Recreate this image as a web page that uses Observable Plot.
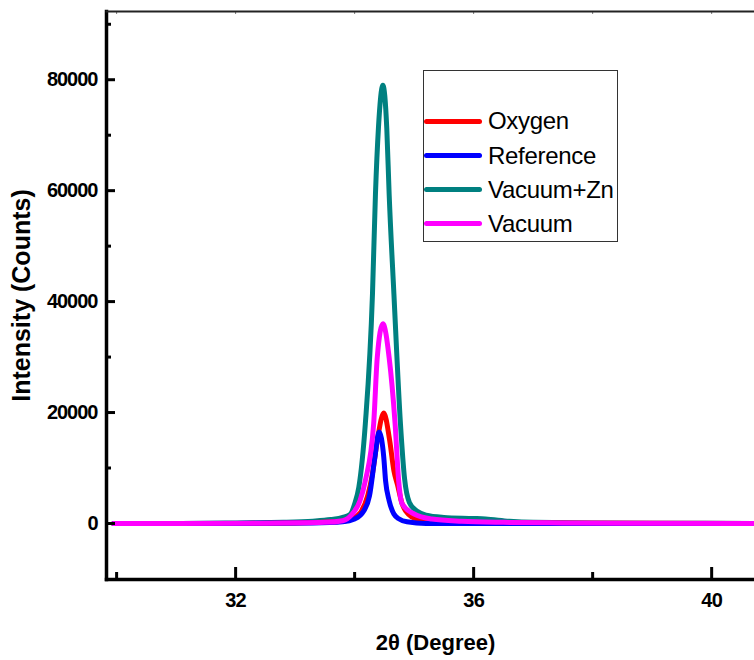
<!DOCTYPE html>
<html>
<head>
<meta charset="utf-8">
<script src="https://cdn.jsdelivr.net/npm/d3@7"></script>
<script src="https://cdn.jsdelivr.net/npm/@observablehq/plot@0.6"></script>
<style>
  body { margin: 0; background: #fff; }
  #wrap { position: relative; width: 754px; height: 660px; overflow: hidden; background: #fff; }
  #legend { position: absolute; left: 423px; top: 70px; width: 195px; height: 172px;
    border: 1.5px solid #333; box-sizing: border-box;
    font-family: "Liberation Sans", Arial, sans-serif; }
  .lrow { position: absolute; left: 0; height: 24px; width: 210px; }
  .lline { position: absolute; left: 0px; top: 9.5px; width: 58px; height: 5px; border-radius: 3px; }
  .ltext { position: absolute; left: 64px; top: 0; font-size: 24px; line-height: 24px;
    letter-spacing: -0.3px; color: #000; white-space: nowrap; }
  g[aria-label="y-axis tick label"] text { letter-spacing: -1px; }
  g[aria-label="x-axis tick label"] text { letter-spacing: -0.8px; }
</style>
</head>
<body>
<div id="wrap"><div id="chart"></div><div id="legend"></div></div>
<script>
// ---------- data ----------
const seriesNames  = ["Oxygen", "Reference", "Vacuum+Zn", "Vacuum"];
const seriesColors = ["#ff0000", "#0000ff", "#008080", "#ff00ff"];

const vacZnX = [29.95, 31.0, 32.0, 32.8, 33.3, 33.6, 33.8, 33.93, 34.0, 34.07, 34.18, 34.30, 34.35, 34.40, 34.475,
                34.54, 34.58, 34.66, 34.77, 34.84, 34.92, 35.05, 35.2, 35.5, 36.0, 36.2, 36.6, 37.0, 38.0, 39.0, 40.72];
const vacZnY = [0, 0, 100, 200, 400, 700, 1100, 1700, 3500, 6500, 18000, 41400, 59400, 71300, 79000,
                71300, 59400, 41400, 18000, 8000, 3800, 2200, 1500, 1100, 900, 800, 400, 200, 100, 50, 0];

const vacuumX = [29.95, 31.0, 32.5, 33.5, 33.8, 33.96, 34.09, 34.18, 34.32, 34.38, 34.475, 34.58, 34.68, 34.74,
                 34.80, 35.0, 35.3, 35.8, 36.5, 37.5, 40.72];
const vacuumY = [0, 0, 50, 200, 500, 1700, 4100, 7700, 18000, 29900, 36000, 29900, 18000, 7700,
                 3500, 1700, 800, 400, 200, 100, 0];

const oxygenX = [29.95, 32.0, 33.0, 33.7, 33.95, 34.1, 34.22, 34.30, 34.38, 34.49, 34.59, 34.66, 34.72,
                 34.80, 34.9, 35.05, 35.3, 36.0, 40.72];
const oxygenY = [0, 0, 100, 300, 800, 2000, 5000, 9000, 14900, 19900, 14900, 9500, 7000,
                 3500, 1700, 800, 300, 100, 0];

const referenceX = [29.95, 32.0, 33.3, 33.8, 34.0, 34.15, 34.25, 34.34, 34.41, 34.49, 34.52, 34.58, 34.66,
                    34.75, 34.88, 35.2, 40.72];
const referenceY = [0, 0, 100, 300, 800, 2200, 5000, 11900, 16500, 11900, 7700, 4100, 1700,
                    800, 300, 0, 0];

const majorX = [32, 36, 40];
const minorX = [30, 34, 38];
const topX   = [30, 32, 34, 36, 38, 40];
const majorY = [0, 20000, 40000, 60000, 80000];
const minorY = [10000, 30000, 50000, 70000, 90000];

const xTitle = "2θ (Degree)";
const yTitle = "Intensity (Counts)";

// ---------- layout ----------
const W = 754, H = 660, mL = 106, mR = 0, mT = 11, mB = 81;
const plotW = W - mL - mR, plotH = H - mT - mB;

const seriesData = {
  "Oxygen": [oxygenX, oxygenY],
  "Reference": [referenceX, referenceY],
  "Vacuum+Zn": [vacZnX, vacZnY],
  "Vacuum": [vacuumX, vacuumY]
};
const rows = seriesNames.flatMap(name => {
  const [xs, ys] = seriesData[name];
  return xs.map((x, i) => ({ series: name, x, y: ys[i] }));
});
const colorOf = Object.fromEntries(seriesNames.map((n, i) => [n, seriesColors[i]]));
const drawOrder = ["Vacuum+Zn", "Oxygen", "Reference", "Vacuum"];

const font = '"Liberation Sans", Arial, sans-serif';

const chart = Plot.plot({
  width: W, height: H,
  marginLeft: mL, marginRight: mR, marginTop: mT, marginBottom: mB,
  style: { fontFamily: font, background: "#fff", color: "#000" },
  x: { domain: [29.83, 40.72] },
  y: { domain: [-10100, 92300] },
  marks: [
    Plot.axisX(majorX, { tickSize: 0, tickPadding: 13, fontSize: 20, fontWeight: "bold", label: null, tickFormat: d => String(d) }),
    Plot.axisY(majorY, { tickSize: 0, tickPadding: 9, fontSize: 20, fontWeight: "bold", label: null, tickFormat: d => String(d) }),
    ...drawOrder.map(name => Plot.line(rows.filter(r => r.series === name), {
      x: "x", y: "y", stroke: colorOf[name], strokeWidth: 5, curve: "monotone-x",
      strokeLinejoin: "round", strokeLinecap: "round", clip: true
    })),
    Plot.ruleY(majorY, { insetRight: plotW - 9, stroke: "#000", strokeWidth: 3 }),
    Plot.ruleY(minorY, { insetRight: plotW - 5, stroke: "#000", strokeWidth: 3 }),
    Plot.ruleX(majorX, { insetTop: plotH - 12, stroke: "#000", strokeWidth: 3 }),
    Plot.ruleX(minorX, { insetTop: plotH - 7, stroke: "#000", strokeWidth: 3 }),
    Plot.ruleX(topX, { insetBottom: plotH - 3, stroke: "#777", strokeWidth: 1 }),
    Plot.frame({ anchor: "left", stroke: "#000", strokeWidth: 3.5 }),
    Plot.frame({ anchor: "bottom", stroke: "#000", strokeWidth: 3.5 }),
    Plot.frame({ anchor: "top", stroke: "#222", strokeWidth: 2 }),
    Plot.text([yTitle], { frameAnchor: "left", textAnchor: "middle", lineAnchor: "middle", dx: -85, rotate: -90,
      fontSize: 25, fontWeight: "bold", fill: "#000" }),
    Plot.text([xTitle], { frameAnchor: "bottom", textAnchor: "middle", dx: 5, dy: 70, lineAnchor: "bottom",
      fontSize: 22, fontWeight: "bold", fill: "#000" })
  ]
});
document.getElementById("chart").appendChild(chart);

// ---------- legend ----------
const legend = document.getElementById("legend");
const rowCenters = [51.7, 86, 120, 154.3];
seriesNames.forEach((name, i) => {
  const row = document.createElement("div");
  row.className = "lrow";
  row.style.top = (rowCenters[i] - 12 - 1.5) + "px";
  const line = document.createElement("div");
  line.className = "lline";
  line.style.background = seriesColors[i];
  const txt = document.createElement("div");
  txt.className = "ltext";
  txt.textContent = name;
  row.appendChild(line);
  row.appendChild(txt);
  legend.appendChild(row);
});
</script>
</body>
</html>
